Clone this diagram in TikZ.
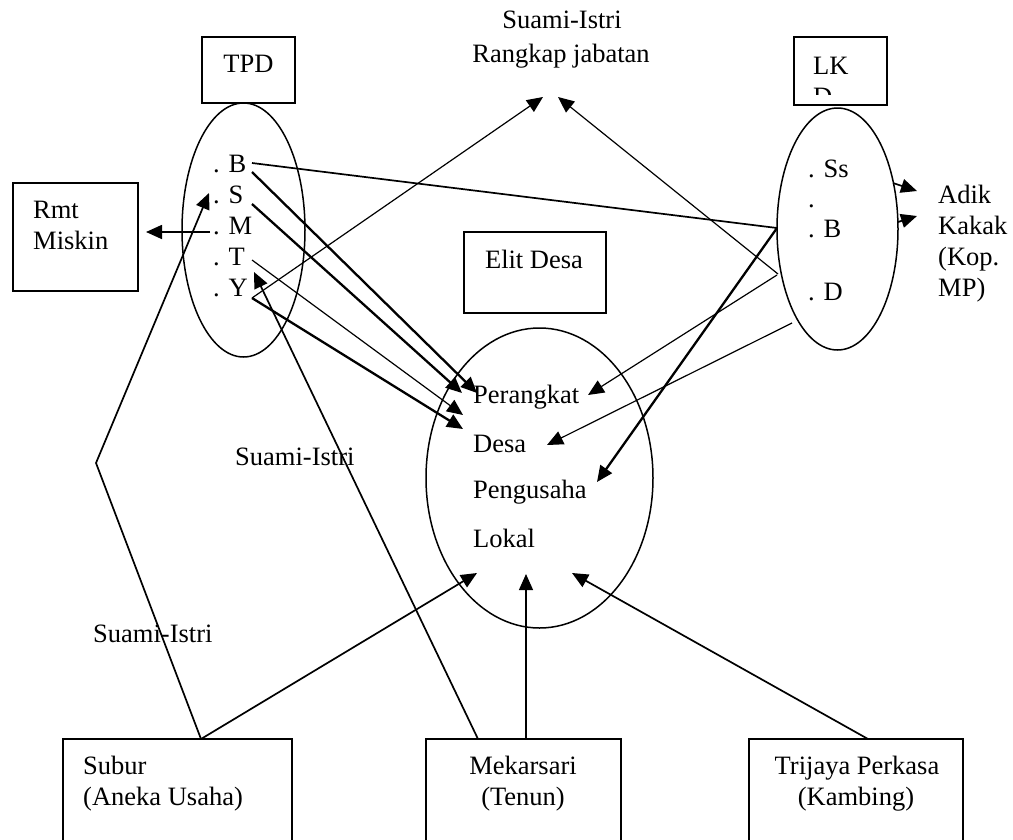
\documentclass[tikz,border=0pt]{standalone}
\usepackage{fontspec}
\setmainfont{Liberation Serif}
\usetikzlibrary{arrows.meta,shapes.geometric}
\begin{document}
\begin{tikzpicture}[x=1pt,y=-1pt,
  box/.style={draw,line width=1.6pt,rectangle,inner sep=0pt},
  oval/.style={draw,line width=1.5pt,ellipse,inner sep=0pt},
  lbl/.style={inner sep=0pt,font=\fontsize{26.5}{31}\selectfont},
  thinl/.style={line width=1.2pt},
  medl/.style={line width=1.7pt},
  thickl/.style={line width=2.3pt},
  arr/.style={-{Triangle[length=16pt,width=14pt]}},
]
\useasboundingbox (0,0) rectangle (1013,839);
\clip (0,0) rectangle (1013,839);

% boxes
\node[box,minimum width=93pt,minimum height=66pt] (tpdbox) at (248.5,70) {};
\node[lbl,anchor=base] (tpdtxt) at (248.5,72) {TPD};
\node[box,minimum width=93pt,minimum height=68pt] (lkdbox) at (840.5,71) {};
\begin{scope}
  \clip (794,37) rectangle (887,94);
  \node[lbl,anchor=base west] (lkdtxt1) at (813,74) {LK};
  \node[lbl,anchor=base west] (lkdtxt2) at (813,105) {D};
\end{scope}
\node[box,minimum width=125pt,minimum height=108pt] (rmt) at (75.5,237) {};
\node[lbl,anchor=base west] (rmt1) at (33,218) {Rmt};
\node[lbl,anchor=base west] (rmt2) at (33,249) {Miskin};
\node[box,minimum width=142pt,minimum height=81pt] (elit) at (535,272.5) {};
\node[lbl,anchor=base] (elittxt) at (534,268) {Elit Desa};

% ellipses
\node[oval,minimum width=123pt,minimum height=254pt] (tpdov) at (243.5,230) {};
\node[oval,minimum width=121pt,minimum height=242pt] (lkdov) at (837.5,229) {};
\node[oval,minimum width=227pt,minimum height=300pt] (mid) at (539.5,478) {};

% TPD items
\node[lbl,anchor=base west] (tB) at (213,172) {. B};
\node[lbl,anchor=base west] (tS) at (213,203) {. S};
\node[lbl,anchor=base west] (tM) at (213,234) {. M};
\node[lbl,anchor=base west] (tT) at (213,265) {. T};
\node[lbl,anchor=base west] (tY) at (213,296) {. Y};

% LKD items
\node[lbl,anchor=base west] (lSs) at (808,177) {. Ss};
\node[lbl,anchor=base west] (ldot) at (808,207) {.};
\node[lbl,anchor=base west] (lB) at (808,237) {. B};
\node[lbl,anchor=base west] (lD) at (808,300) {. D};

% centre texts
\node[lbl,anchor=base west] (per) at (473,403) {Perangkat};
\node[lbl,anchor=base west] (des) at (473,452) {Desa};
\node[lbl,anchor=base west] (pen) at (473,498) {Pengusaha};
\node[lbl,anchor=base west] (lok) at (473,547) {Lokal};

% Adik Kakak
\node[lbl,anchor=base west] (ak1) at (938,203) {Adik};
\node[lbl,anchor=base west] (ak2) at (938,234) {Kakak};
\node[lbl,anchor=base west] (ak3) at (938,265) {(Kop.};
\node[lbl,anchor=base west] (ak4) at (938,296) {MP)};

% labels
\node[lbl,anchor=base] (si1) at (562,28) {Suami-Istri};
\node[lbl,anchor=base] (rj) at (561,62) {Rangkap jabatan};
\node[lbl,anchor=base west] (si2) at (235,465) {Suami-Istri};
\node[lbl,anchor=base west] (si3) at (93,642) {Suami-Istri};

% bottom boxes
\node[box,minimum width=229pt,minimum height=121pt] (subur) at (177.5,799.5) {};
\node[lbl,anchor=base west] (sub1) at (83,774) {Subur};
\node[lbl,anchor=base west] (sub2) at (83,805) {(Aneka Usaha)};
\node[box,minimum width=195pt,minimum height=121pt] (mekar) at (523.5,799.5) {};
\node[lbl,anchor=base] (mek1) at (523,774) {Mekarsari};
\node[lbl,anchor=base] (mek2) at (523,805) {(Tenun)};
\node[box,minimum width=214pt,minimum height=121pt] (trij) at (856,799.5) {};
\node[lbl,anchor=base] (tri1) at (857,774) {Trijaya Perkasa};
\node[lbl,anchor=base] (tri2) at (856,805) {(Kambing)};

% connector end points
\coordinate (pB1) at (252,163);
\coordinate (pB2) at (252,172);
\coordinate (pS) at (252,204);
\coordinate (pM) at (210,232);
\coordinate (pT) at (252,260);
\coordinate (pY) at (252,298);
\coordinate (rmtTip) at (146,232);
\coordinate (perA) at (477,393);
\coordinate (perB) at (462,393);
\coordinate (desA) at (463,415);
\coordinate (desB) at (463,429);
\coordinate (rjA) at (543,97);
\coordinate (rjB) at (558,97);
\coordinate (kB) at (777,228);
\coordinate (kD1) at (778,274);
\coordinate (kD2) at (777,275);
\coordinate (kD3) at (792,323);
\coordinate (perC) at (588,395);
\coordinate (desC) at (547,445);
\coordinate (penC) at (597,482);
\coordinate (kR1) at (893,183);
\coordinate (kR2) at (898,222);
\coordinate (akA) at (917,191);
\coordinate (akB) at (917,216);
\coordinate (subTop) at (201,739);
\coordinate (bend) at (96,463);
\coordinate (sTip) at (209,193);
\coordinate (mekTop1) at (478,739);
\coordinate (mekTop2) at (526,739);
\coordinate (triTop) at (868,739);
\coordinate (tTip) at (254,272);
\coordinate (botA) at (477,573);
\coordinate (botB) at (526,574);
\coordinate (botC) at (572,573);

% connectors from TPD
\draw[medl] (pB1) -- (kB);
\draw[thickl,arr] (pB2) -- (perA);
\draw[thickl,arr] (pS) -- (perB);
\draw[medl,arr] (pM) -- (rmtTip);
\draw[thinl,arr] (pT) -- (desA);
\draw[thinl,arr] (pY) -- (rjA);
\draw[thickl,arr] (pY) -- (desB);

% connectors from LKD
\draw[thinl,arr] (kD1) -- (rjB);
\draw[thinl,arr] (kD2) -- (perC);
\draw[thinl,arr] (kD3) -- (desC);
\draw[thickl,arr] (kB) -- (penC);
\draw[medl,arr] (kR1) -- (akA);
\draw[medl,arr] (kR2) -- (akB);

% connectors from bottom
\draw[medl,arr] (subTop) -- (bend) -- (sTip);
\draw[medl,arr] (subTop) -- (botA);
\draw[medl,arr] (mekTop1) -- (tTip);
\draw[thinl,arr] (mekTop2) -- (botB);
\draw[medl,arr] (triTop) -- (botC);
\end{tikzpicture}
\end{document}
